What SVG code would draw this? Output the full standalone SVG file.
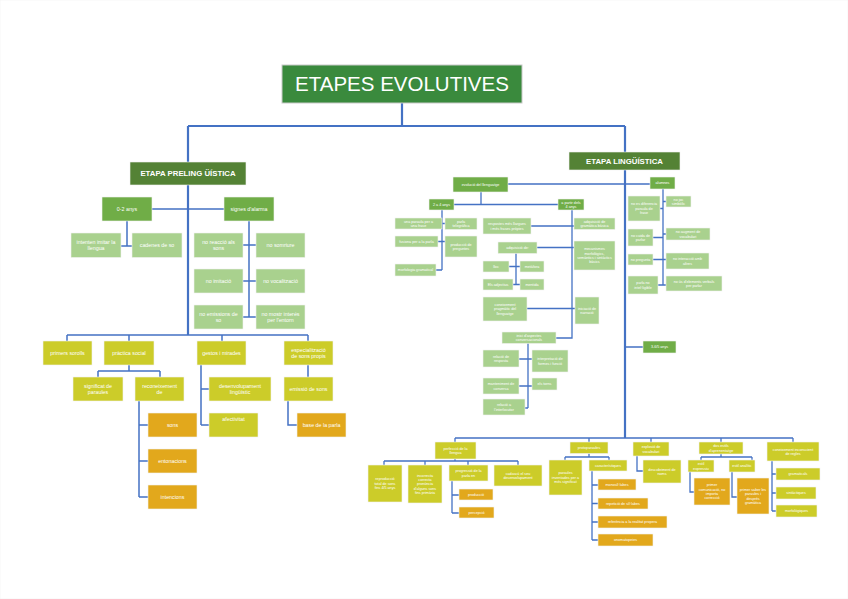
<svg xmlns="http://www.w3.org/2000/svg" width="848" height="599" viewBox="0 0 848 599">
<style>
rect{stroke:#f2f2f2;stroke-width:.6}
.ti{fill:#3a8a3d;stroke:#c9c9c9;stroke-width:1}
.dk{fill:#548235}
.md{fill:#70ad47}
.lt{fill:#a9d18e}
.yl{fill:#cccc29}
.or{fill:#e2a81c}
text{fill:#fff;font-family:"Liberation Sans",Arial,sans-serif;text-anchor:middle}
.s1{font-size:5.3px}
.s2{font-size:3.7px}
.hd{font-size:7.8px;font-weight:bold}
.c{fill:none;stroke:#4472c4;stroke-width:1.5}
.cb{stroke-width:2.2}
.cs{stroke-width:1.3}
</style>
<rect width="848" height="599" fill="#fff" stroke="none"/>
<g id="connectors">
<path class="c cb" d="M402,103V126M188,126H625M188,126V162M625,126V152M188,185V335M625,170V438"/>
<path class="c" d="M67,335H308M67,335V341M129,335V341M222,335V341M308,335V341M152,209H224M127,221V246M121,246H132M249,221V317M243,245H256M243,281H256M243,317H256M129,365V371M98,371H160M98,371V377M160,371V377M139,401V497M139,425H148M139,461H148M139,497H148M201,365V425M201,389H209M201,425H209M308,365V377M288,401V425H297"/>
<path class="c cs" d="M508,184H650M481,192V204.5M454,204.5H558M442,210V270M442,223.5H445M438,241.5H445M436,270H442M572,210V338H556M531,226H574M537,247.5H574M527,308.5H575M516,253V284.5M509,266.5H520M513,284.5H520M528,343V408M519,359H532M519,386H532M525,408H528M663,189V285M660,208.5H663M663,201.5H666M653,237.5H663M663,234H666M653,259.5H666M658,285H666M625,347H643"/>
<path class="c cs" d="M455,438H793M455,438V442M589,438V442M651,438V442M721,438V442M793,438V442M455,459V461M384,461H518M384,461V465M425,461V465M468,461V465M518,461V465M452,481V513M452,495H459M452,513H459M589,453.5V457M565,457H609M565,457V460M609,457V460M592,471V540M592,485H598M592,503.5H598M592,522H598M592,540H598M637,456V471H643M721,454V457M701,457H752M701,457V460M752,457V460M690,472V492H694M732,472V497H737M772,461V511M772,474H776M772,493H776M772,511H776"/>
</g>
<g id="title"><rect class="ti" x="282" y="65" width="240" height="38"/><text x="402" y="91.3" font-size="20.5">ETAPES EVOLUTIVES</text></g>
<g id="preling"><rect class="dk" x="130" y="162" width="116" height="23"/><text class="hd" x="188" y="176.3">ETAPA PRELING ÜÍSTICA</text></g>
<g id="ling"><rect class="dk" x="569" y="152" width="111" height="18"/><text class="hd" x="624.5" y="163.8">ETAPA LINGÜÍSTICA</text></g>
<g id="n02"><rect class="md" x="102" y="197" width="50" height="24"/><text class="s1" x="127" y="210.85">0-2 anys</text></g>
<g id="alarma"><rect class="md" x="224" y="197" width="50" height="24"/><text class="s1" x="249" y="210.85">signes d'alarma</text></g>
<g id="imitar"><rect class="lt" x="71" y="233" width="50" height="24.5"/><text class="s1"><tspan x="96" y="243.9">intenten imitar la</tspan><tspan x="96" y="250.3">llengua</tspan></text></g>
<g id="cadenes"><rect class="lt" x="132" y="233" width="50" height="24.5"/><text class="s1" x="157" y="247.1">cadenes de so</text></g>
<g id="a1"><rect class="lt" x="194" y="233" width="49" height="24.5"/><text class="s1"><tspan x="218.5" y="243.9">no reacció als</tspan><tspan x="218.5" y="250.3">sons</tspan></text></g>
<g id="a2"><rect class="lt" x="256" y="233" width="49" height="24.5"/><text class="s1" x="280.5" y="247.1">no somriure</text></g>
<g id="a3"><rect class="lt" x="194" y="269" width="49" height="24"/><text class="s1" x="218.5" y="282.85">no imitació</text></g>
<g id="a4"><rect class="lt" x="256" y="269" width="49" height="24"/><text class="s1" x="280.5" y="282.85">no vocalització</text></g>
<g id="a5"><rect class="lt" x="194" y="305" width="49" height="24"/><text class="s1"><tspan x="218.5" y="315.65">no emissions de</tspan><tspan x="218.5" y="322.05">so</tspan></text></g>
<g id="a6"><rect class="lt" x="256" y="305" width="49" height="24"/><text class="s1"><tspan x="280.5" y="315.65">no mostr interés</tspan><tspan x="280.5" y="322.05">per l'entorn</tspan></text></g>
<g id="primers"><rect class="yl" x="43" y="341" width="49" height="24"/><text class="s1" x="67.5" y="354.85">primers sorolls</text></g>
<g id="practica"><rect class="yl" x="104" y="341" width="50" height="24"/><text class="s1" x="129" y="354.85">pràctica social</text></g>
<g id="gestos"><rect class="yl" x="197" y="341" width="49" height="24"/><text class="s1" x="221.5" y="354.85">gestos i mirades</text></g>
<g id="especial"><rect class="yl" x="284" y="341" width="49" height="24"/><text class="s1"><tspan x="308.5" y="351.65">especialització</tspan><tspan x="308.5" y="358.05">de sons propis</tspan></text></g>
<g id="significat"><rect class="yl" x="73" y="377" width="50" height="24"/><text class="s1"><tspan x="98" y="387.65">significat de</tspan><tspan x="98" y="394.05">paraules</tspan></text></g>
<g id="reconeix"><rect class="yl" x="135" y="377" width="49" height="24"/><text class="s1"><tspan x="159.5" y="387.65">reconeixement</tspan><tspan x="159.5" y="394.05">de</tspan></text></g>
<g id="desenv"><rect class="yl" x="209" y="377" width="62" height="24"/><text class="s1"><tspan x="240" y="387.65">desenvolupament</tspan><tspan x="240" y="394.05">lingüístic</tspan></text></g>
<g id="emissio"><rect class="yl" x="284" y="377" width="49" height="24"/><text class="s1" x="308.5" y="390.85">emissió de sons</text></g>
<g id="afect"><rect class="yl" x="209" y="413" width="49" height="24"/><text class="s1" x="233.5" y="421">afectivitat</text></g>
<g id="sons"><rect class="or" x="148" y="413" width="49" height="24"/><text class="s1" x="172.5" y="426.85">sons</text></g>
<g id="entonacions"><rect class="or" x="148" y="449" width="49" height="24"/><text class="s1" x="172.5" y="462.85">entonacions</text></g>
<g id="intencions"><rect class="or" x="148" y="485" width="49" height="24"/><text class="s1" x="172.5" y="498.85">intencions</text></g>
<g id="base"><rect class="or" x="297" y="413" width="49" height="24"/><text class="s1" x="321.5" y="426.85">base de la parla</text></g>
<g id="evolucio"><rect class="md" x="453" y="177" width="55" height="15"/><text class="s2" x="480.5" y="185.8">evolució del llenguatge</text></g>
<g id="alumnes"><rect class="md" x="650" y="177" width="25" height="12"/><text class="s2" x="662.5" y="184.3">alumnes</text></g>
<g id="a24"><rect class="md" x="429" y="199" width="25" height="11"/><text class="s2" x="441.5" y="205.8">2 a 4 anys</text></g>
<g id="a4p"><rect class="md" x="558" y="199" width="26" height="11"/><text class="s2"><tspan x="571" y="203.6">a partir dels</tspan><tspan x="571" y="208">4 anys</tspan></text></g>
<g id="r1"><rect class="lt" x="395" y="218" width="47" height="11"/><text class="s2"><tspan x="418.5" y="222.6">una paraula per a</tspan><tspan x="418.5" y="227">una frase</tspan></text></g>
<g id="r2"><rect class="lt" x="395" y="236" width="43" height="11"/><text class="s2" x="416.5" y="242.8">fusiona per a la parla</text></g>
<g id="r3"><rect class="lt" x="395" y="264" width="41" height="12"/><text class="s2" x="415.5" y="271.3">morfologia gramatical</text></g>
<g id="r4"><rect class="lt" x="445" y="218" width="32" height="11.5"/><text class="s2"><tspan x="461" y="222.85">parla</tspan><tspan x="461" y="227.25">telegràfica</tspan></text></g>
<g id="r5"><rect class="lt" x="445" y="236" width="32" height="21"/><text class="s2"><tspan x="461" y="245.6">producció de</tspan><tspan x="461" y="250">preguntes</tspan></text></g>
<g id="r6"><rect class="lt" x="483" y="218" width="48" height="16"/><text class="s2"><tspan x="507" y="225.1">respostes més llargues</tspan><tspan x="507" y="229.5">i més frases pròpies</tspan></text></g>
<g id="r7"><rect class="lt" x="498" y="242" width="39" height="11.5"/><text class="s2" x="517.5" y="249.05">adquisició de:</text></g>
<g id="r8"><rect class="lt" x="483" y="261" width="26" height="11"/><text class="s2" x="496" y="267.8">lloc</text></g>
<g id="r9"><rect class="lt" x="520" y="261" width="24" height="11"/><text class="s2" x="532" y="267.8">metàfora</text></g>
<g id="r10"><rect class="lt" x="483" y="279" width="30" height="11"/><text class="s2" x="498" y="285.8">Els adjectius</text></g>
<g id="r11"><rect class="lt" x="520" y="279" width="24" height="11"/><text class="s2" x="532" y="285.8">mentida</text></g>
<g id="r12"><rect class="lt" x="574" y="218" width="41" height="11.5"/><text class="s2"><tspan x="594.5" y="222.85">adquisició de</tspan><tspan x="594.5" y="227.25">gramàtica bàsica</tspan></text></g>
<g id="r13"><rect class="lt" x="574" y="241" width="41" height="29"/><text class="s2"><tspan x="594.5" y="250.2">mecanismes</tspan><tspan x="594.5" y="254.6">morfològics,</tspan><tspan x="594.5" y="259">semàntics i sintàctics</tspan><tspan x="594.5" y="263.4">bàsics</tspan></text></g>
<g id="r14"><rect class="lt" x="483" y="297" width="44" height="24"/><text class="s2"><tspan x="505" y="305.9">coneixement</tspan><tspan x="505" y="310.3">pragmàtic del</tspan><tspan x="505" y="314.7">llenguatge</tspan></text></g>
<g id="r15"><rect class="lt" x="575" y="297" width="24" height="27"/><text class="s2"><tspan x="587" y="309.6">iniciació de</tspan><tspan x="587" y="314">narració</tspan></text></g>
<g id="r16"><rect class="lt" x="502" y="332" width="54" height="11.5"/><text class="s2"><tspan x="529" y="336.85">inici d'aspectes</tspan><tspan x="529" y="341.25">conversacionals</tspan></text></g>
<g id="r17"><rect class="lt" x="483" y="350" width="36" height="17"/><text class="s2"><tspan x="501" y="357.6">relació de</tspan><tspan x="501" y="362">resposta</tspan></text></g>
<g id="r18"><rect class="lt" x="532" y="350" width="36" height="22"/><text class="s2"><tspan x="550" y="360.1">interpretació de</tspan><tspan x="550" y="364.5">formes i funció</tspan></text></g>
<g id="r19"><rect class="lt" x="483" y="378" width="36" height="16"/><text class="s2"><tspan x="501" y="385.1">manteniment de</tspan><tspan x="501" y="389.5">conversa</tspan></text></g>
<g id="r20"><rect class="lt" x="532" y="378" width="25" height="12"/><text class="s2" x="544.5" y="385.3">els torns</text></g>
<g id="r21"><rect class="lt" x="483" y="399" width="42" height="16"/><text class="s2"><tspan x="504" y="406.1">relació a</tspan><tspan x="504" y="410.5">l'interlocutor</tspan></text></g>
<g id="s1"><rect class="lt" x="628" y="196" width="32" height="25"/><text class="s2"><tspan x="644" y="205.4">no es diferencia</tspan><tspan x="644" y="209.8">paraula de</tspan><tspan x="644" y="214.2">frase</tspan></text></g>
<g id="s2"><rect class="lt" x="628" y="229" width="25" height="17"/><text class="s2"><tspan x="640.5" y="236.6">no cuida de</tspan><tspan x="640.5" y="241">parlar</tspan></text></g>
<g id="s3"><rect class="lt" x="628" y="254" width="25" height="11"/><text class="s2" x="640.5" y="260.8">no pregunta</text></g>
<g id="s4"><rect class="lt" x="628" y="276" width="30" height="18"/><text class="s2"><tspan x="643" y="284.1">parla no</tspan><tspan x="643" y="288.5">intel·ligible</tspan></text></g>
<g id="s5"><rect class="lt" x="666" y="196" width="25" height="11"/><text class="s2"><tspan x="678.5" y="200.6">no joc</tspan><tspan x="678.5" y="205">simbòlic</tspan></text></g>
<g id="s6"><rect class="lt" x="666" y="228" width="44" height="12"/><text class="s2"><tspan x="688" y="233.1">no augment de</tspan><tspan x="688" y="237.5">vocabulari</tspan></text></g>
<g id="s7"><rect class="lt" x="666" y="253" width="43" height="16"/><text class="s2"><tspan x="687.5" y="260.1">no interacció amb</tspan><tspan x="687.5" y="264.5">altres</tspan></text></g>
<g id="s8"><rect class="lt" x="666" y="276" width="56" height="15"/><text class="s2"><tspan x="694" y="282.6">no ús d'elements verbals</tspan><tspan x="694" y="287">per parlar</tspan></text></g>
<g id="s36"><rect class="md" x="643" y="341" width="33" height="12"/><text class="s2" x="659.5" y="348.3">3-6/5 anys</text></g>
<g id="perfeccio"><rect class="yl" x="435" y="442" width="41" height="17"/><text class="s2"><tspan x="455.5" y="449.6">perfecció de la</tspan><tspan x="455.5" y="454">llengua</tspan></text></g>
<g id="prot"><rect class="yl" x="570" y="442" width="38" height="11.5"/><text class="s2" x="589" y="449.05">protoparaules</text></g>
<g id="explosio"><rect class="yl" x="633" y="442" width="36" height="14"/><text class="s2"><tspan x="651" y="448.1">explosió de</tspan><tspan x="651" y="452.5">vocabulari</tspan></text></g>
<g id="dues"><rect class="yl" x="699" y="442" width="44" height="12"/><text class="s2"><tspan x="721" y="447.1">dos estils</tspan><tspan x="721" y="451.5">d'aprenentatge</tspan></text></g>
<g id="coneix"><rect class="yl" x="767" y="442" width="52" height="19"/><text class="s2"><tspan x="793" y="450.6">coneixement inconscient</tspan><tspan x="793" y="455">de regles</tspan></text></g>
<g id="p1"><rect class="yl" x="368" y="465" width="34" height="37"/><text class="s2"><tspan x="385" y="480.4">reproducció</tspan><tspan x="385" y="484.8">total de sons</tspan><tspan x="385" y="489.2">fins 4/5 anys</tspan></text></g>
<g id="p2"><rect class="yl" x="408" y="465" width="34" height="38"/><text class="s2"><tspan x="425" y="476.5">incorrecta</tspan><tspan x="425" y="480.9">correcta</tspan><tspan x="425" y="485.3">pronúncia</tspan><tspan x="425" y="489.7">d'alguns sons</tspan><tspan x="425" y="494.1">fins primària</tspan></text></g>
<g id="p3"><rect class="yl" x="449" y="465" width="39" height="16"/><text class="s2"><tspan x="468.5" y="472.1">progressió de la</tspan><tspan x="468.5" y="476.5">parla en</tspan></text></g>
<g id="p4"><rect class="yl" x="494" y="465" width="48" height="21"/><text class="s2"><tspan x="518" y="474.6">cadascú el seu</tspan><tspan x="518" y="479">desenvolupament</tspan></text></g>
<g id="o1"><rect class="or" x="459" y="489" width="34" height="11"/><text class="s2" x="476" y="495.8">producció</text></g>
<g id="o2"><rect class="or" x="459" y="507" width="35" height="11"/><text class="s2" x="476.5" y="513.8">percepció</text></g>
<g id="q1"><rect class="yl" x="549" y="460" width="33" height="35"/><text class="s2"><tspan x="565.5" y="474.4">paraules</tspan><tspan x="565.5" y="478.8">inventades per a</tspan><tspan x="565.5" y="483.2">més significat</tspan></text></g>
<g id="q2"><rect class="yl" x="589" y="460" width="38" height="11"/><text class="s2" x="608" y="466.8">característiques</text></g>
<g id="o3"><rect class="or" x="598" y="479" width="38" height="11"/><text class="s2" x="617" y="485.8">monosíl·labes</text></g>
<g id="o4"><rect class="or" x="598" y="498" width="50" height="11"/><text class="s2" x="623" y="504.8">repetició de síl·labes</text></g>
<g id="o5"><rect class="or" x="598" y="516" width="69" height="12"/><text class="s2" x="632.5" y="523.3">referència a la realitat propera</text></g>
<g id="o6"><rect class="or" x="598" y="534" width="55" height="12"/><text class="s2" x="625.5" y="541.3">onomatopeies</text></g>
<g id="e1"><rect class="yl" x="643" y="460" width="38" height="23"/><text class="s2"><tspan x="662" y="470.6">descobriment de</tspan><tspan x="662" y="475">noms</tspan></text></g>
<g id="d1"><rect class="yl" x="688" y="460" width="26" height="12"/><text class="s2"><tspan x="701" y="465.1">estil</tspan><tspan x="701" y="469.5">expressiu</tspan></text></g>
<g id="d2"><rect class="yl" x="729" y="460" width="26" height="12"/><text class="s2" x="742" y="467.3">estil analític</text></g>
<g id="d3"><rect class="or" x="694" y="478" width="36" height="27"/><text class="s2"><tspan x="712" y="486.2">primer</tspan><tspan x="712" y="490.6">comunicació, no</tspan><tspan x="712" y="495">importa</tspan><tspan x="712" y="499.4">correcció</tspan></text></g>
<g id="d4"><rect class="or" x="737" y="478" width="32" height="36"/><text class="s2"><tspan x="753" y="490.7">primer saber les</tspan><tspan x="753" y="495.1">paraules i</tspan><tspan x="753" y="499.5">després</tspan><tspan x="753" y="503.9">gramàtica</tspan></text></g>
<g id="c1"><rect class="yl" x="776" y="468" width="44" height="12"/><text class="s2" x="798" y="475.3">gramaticals</text></g>
<g id="c2"><rect class="yl" x="776" y="487" width="40" height="12"/><text class="s2" x="796" y="494.3">sintàctiques</text></g>
<g id="c3"><rect class="yl" x="776" y="505" width="41" height="12"/><text class="s2" x="796.5" y="512.3">morfològiques</text></g>
</svg>
